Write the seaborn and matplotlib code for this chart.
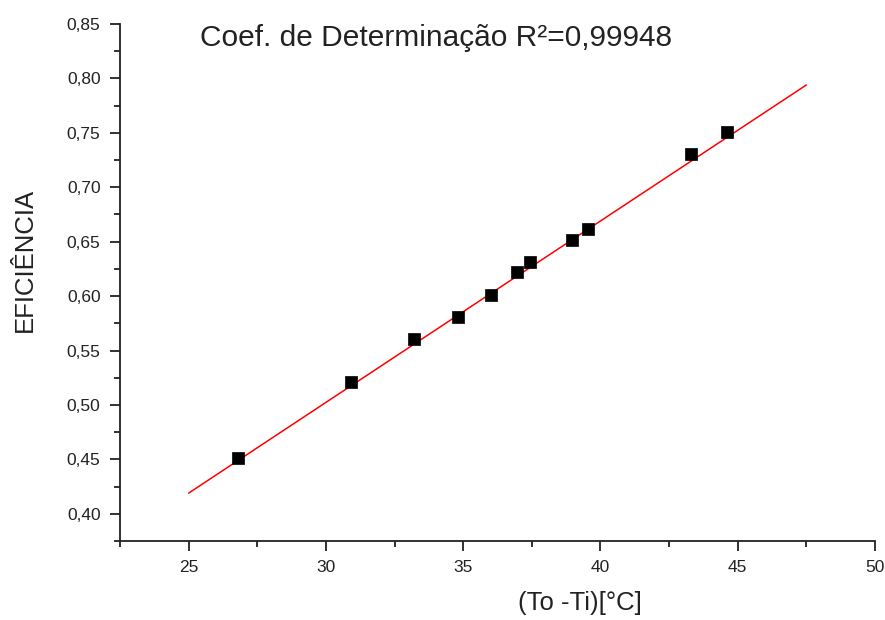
import numpy as np
import pandas as pd
import matplotlib
matplotlib.use("Agg")
import matplotlib.pyplot as plt
import seaborn as sns
from matplotlib.ticker import MultipleLocator, FuncFormatter

# Data
delta_t = [26.8, 30.9, 33.2, 34.8, 36.0, 36.95, 37.45, 38.95, 39.55, 43.3, 44.6]
eficiencia = [0.451, 0.521, 0.561, 0.581, 0.601, 0.622, 0.631, 0.652, 0.662, 0.731, 0.751]
# Linear fit line as drawn in the reference (endpoints)
fit_x = [25.0, 47.5]
fit_y = [0.419, 0.794]
r2_text = "Coef. de Determinação R²=0,99948"

sns.set_theme(style="ticks")
plt.rcParams['font.family'] = ['Liberation Sans', 'DejaVu Sans']

df = pd.DataFrame({"x": delta_t, "y": eficiencia})
fit_df = pd.DataFrame({"x": fit_x, "y": fit_y})

fig = plt.figure(figsize=(8.85, 6.2), dpi=100)
ax = fig.add_axes([0.1356, 0.1274, 0.8531, 0.8339])

sns.lineplot(data=fit_df, x="x", y="y", color="#ff0000", linewidth=1.1, ax=ax)
sns.scatterplot(data=df, x="x", y="y", marker="s", s=80, color="black",
                edgecolor="black", linewidth=0.5, ax=ax, zorder=3)

ax.set_xlim(22.5, 50)
ax.set_ylim(0.375, 0.85)
ax.xaxis.set_major_locator(MultipleLocator(5))
ax.xaxis.set_minor_locator(MultipleLocator(2.5))
ax.yaxis.set_major_locator(MultipleLocator(0.05))
ax.yaxis.set_minor_locator(MultipleLocator(0.025))
ax.xaxis.set_major_formatter(FuncFormatter(lambda v, p: f"{v:.0f}"))
ax.yaxis.set_major_formatter(FuncFormatter(lambda v, p: f"{v:.2f}".replace(".", ",")))

sns.despine(ax=ax)
for s in ["left", "bottom"]:
    ax.spines[s].set_linewidth(1.3)
    ax.spines[s].set_color("#222222")
ax.tick_params(axis="both", which="major", direction="out", length=7, width=1.3,
               labelsize=12.5, colors="#222222", pad=7)
ax.tick_params(axis="both", which="minor", direction="out", length=4, width=1.3,
               colors="#222222")

ax.set_xlabel("(To -Ti)[°C]", fontsize=18.5, color="#222222", va="center", ha="center")
ax.set_ylabel("EFICIÊNCIA", fontsize=18.5, color="#222222", va="center", ha="center")
ax.xaxis.set_label_coords(0.609, -0.12)
ax.yaxis.set_label_coords(-0.126, 0.5435)

ax.text(0.106, 0.973, r2_text, transform=ax.transAxes, fontsize=21.5,
        color="#222222", ha="left", va="center")

fig.savefig("out.png", dpi=100)
